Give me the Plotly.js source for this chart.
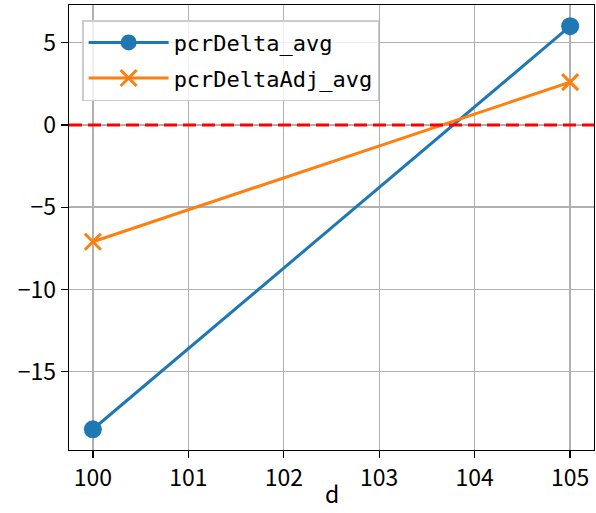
<!DOCTYPE html>
<html>
<head>
<meta charset="utf-8">
<script src="https://cdn.plot.ly/plotly-3.0.1.min.js"></script>
<style>html,body{margin:0;padding:0;background:#fff;}#chart{width:596px;height:513px;}</style>
</head>
<body>
<div id="chart"></div>
<script>
const dValues = [100, 105];
const pcrDeltaAvg = [-18.5, 6.0];
const pcrDeltaAdjAvg = [-7.1, 2.6];
const seriesNames = ["pcrDelta_avg", "pcrDeltaAdj_avg"];
const xTicks = [100, 101, 102, 103, 104, 105];
const yTicks = [-15, -10, -5, 0, 5];
const yTickLabels = ["\u221215", "\u221210", "\u22125", "0", "5"];
const xTitle = "d";
const refLineY = 0;

const tickFont = {family: "Noto Sans CJK SC, DejaVu Sans", size: 23, color: "#000"};

const traces = [
  {x: dValues, y: pcrDeltaAvg, name: seriesNames[0], legendgroup: "a", type: "scatter", mode: "lines+markers",
   line: {color: "#1f77b4", width: 3}, marker: {symbol: "circle", size: 18, color: "#1f77b4"}},
  {x: dValues, y: pcrDeltaAdjAvg, name: seriesNames[1], legendgroup: "b", type: "scatter", mode: "lines+markers",
   line: {color: "#ff7f0e", width: 3}, marker: {symbol: "x-thin", size: 16, color: "#ff7f0e", line: {color: "#ff7f0e", width: 3}}}
];

const layout = {
  width: 596, height: 513,
  margin: {l: 69, r: 2, t: 5, b: 63},
  paper_bgcolor: "#fff", plot_bgcolor: "#fff",
  showlegend: true,
  legend: {x: 0.025, y: 0.966, xanchor: "left", yanchor: "top",
    bgcolor: "rgba(255,255,255,0.8)", bordercolor: "#cccccc", borderwidth: 1.5,
    font: {family: "DejaVu Sans Mono, Liberation Mono, monospace", size: 22, color: "#000"},
    itemwidth: 80, tracegroupgap: 4},
  xaxis: {range: [99.75, 105.25], tickvals: xTicks, ticktext: xTicks.map(String),
    showgrid: true, gridcolor: "#b0b0b0", gridwidth: 1.4,
    showline: true, linecolor: "#000", linewidth: 1.3, mirror: true,
    ticks: "outside", ticklen: 7, tickwidth: 1.3, tickcolor: "#000",
    tickfont: tickFont, zeroline: false},
  yaxis: {range: [-19.76, 7.29], tickvals: yTicks, ticktext: yTickLabels,
    showgrid: true, gridcolor: "#b0b0b0", gridwidth: 1.4,
    showline: true, linecolor: "#000", linewidth: 1.3, mirror: true,
    ticks: "outside", ticklen: 7, tickwidth: 1.3, tickcolor: "#000",
    tickfont: tickFont, zeroline: false},
  annotations: [{text: xTitle, xref: "paper", yref: "paper", x: 0.5, y: -0.14,
    xanchor: "center", yanchor: "bottom", showarrow: false, font: tickFont}],
  shapes: [{type: "line", xref: "paper", x0: 0, x1: 1, yref: "y", y0: refLineY, y1: refLineY,
    line: {color: "#ff0000", width: 3, dash: "13px,6px"}, layer: "above"}]
};

Plotly.newPlot("chart", traces, layout, {displayModeBar: false, staticPlot: true});
</script>
</body>
</html>
